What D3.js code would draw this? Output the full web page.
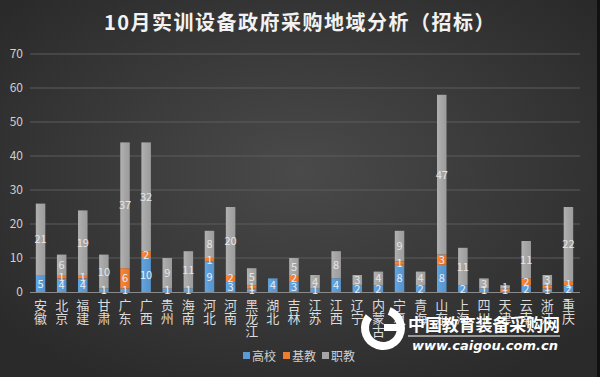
<!DOCTYPE html>
<html><head><meta charset="utf-8">
<script src="https://cdn.jsdelivr.net/npm/d3@7/dist/d3.min.js"></script>
<style>
html,body{margin:0;padding:0;background:#333;}
svg{display:block;font-family:"Noto Sans CJK SC","Noto Sans",sans-serif;}
</style></head>
<body>
<svg id="chart" width="600" height="377"></svg>
<script>
const categories = ["安徽","北京","福建","甘肃","广东","广西","贵州","海南","河北","河南","黑龙江","湖北","吉林","江苏","江西","辽宁","内蒙古","宁夏","青海","山东","上海","四川","天津","云南","浙江","重庆"];
const gaoxiao = [5,4,4,1,1,10,1,1,9,3,1,4,3,1,4,2,2,8,2,8,2,1,0,2,1,2];
const jijiao  = [0,1,1,0,6,2,0,0,1,2,1,0,2,0,0,0,0,1,0,3,0,0,1,2,1,1];
const zhijiao = [21,6,19,10,37,32,9,11,8,20,5,0,5,4,8,3,4,9,4,47,11,3,1,11,3,22];
const seriesNames = ["高校","基教","职教"];
const yTicks = [0,10,20,30,40,50,60,70];
const title = "10月实训设备政府采购地域分析（招标）";

const colors = ["#5b9bd5","#ed7d31","#a5a5a5"];
const svg = d3.select("#chart");

// background
const defs = svg.append("defs");
const rg = defs.append("radialGradient").attr("id","bg").attr("cx","50%").attr("cy","45%").attr("r","65%");
rg.append("stop").attr("offset","0%").attr("stop-color","#4a4a4a");
rg.append("stop").attr("offset","100%").attr("stop-color","#2a2a2a");
svg.append("rect").attr("width",600).attr("height",377).attr("fill","url(#bg)");
svg.append("rect").attr("x",597).attr("width",3).attr("height",377).attr("fill","#111");

colors.forEach((c,i)=>{
  const lg = defs.append("linearGradient").attr("id","g"+i).attr("x1","0").attr("x2","1");
  lg.append("stop").attr("offset","0%").attr("stop-color",d3.color(c).brighter(0.2));
  lg.append("stop").attr("offset","50%").attr("stop-color",c);
  lg.append("stop").attr("offset","100%").attr("stop-color",d3.color(c).darker(0.15));
});

const x = d3.scaleBand().domain(categories).range([30,579]).paddingInner(0.55).paddingOuter(0.275);
const y = d3.scaleLinear().domain([0,70]).range([292,54]);

// gridlines
svg.append("g").selectAll("line").data(yTicks.filter(t=>t>0)).join("line")
  .attr("x1",30).attr("x2",580).attr("y1",d=>y(d)).attr("y2",d=>y(d))
  .attr("stroke","#5c5c5c").attr("stroke-width",1);

// y axis labels
const yAxis = d3.axisLeft(y).tickValues(yTicks).tickSize(0).tickPadding(0);
const ya = svg.append("g").attr("transform","translate(23,0)").call(yAxis);
ya.select(".domain").remove();
ya.selectAll("text").attr("fill","#cfcfcf").attr("font-size",12).attr("font-family","'Noto Sans CJK SC',sans-serif");

// stack
const rows = categories.map((c,i)=>({cat:c, "高校":gaoxiao[i], "基教":jijiao[i], "职教":zhijiao[i]}));
const stack = d3.stack().keys(seriesNames)(rows);

const layers = svg.append("g").selectAll("g").data(stack).join("g")
  .attr("fill",(d,i)=>`url(#g${i})`);
layers.selectAll("rect").data(d=>d).join("rect")
  .attr("x",d=>x(d.data.cat)).attr("width",x.bandwidth())
  .attr("y",d=>y(d[1])).attr("height",d=>y(d[0])-y(d[1]));

// baseline
svg.append("line").attr("x1",30).attr("x2",580).attr("y1",y(0)+0.5).attr("y2",y(0)+0.5)
  .attr("stroke","#8a8a8a").attr("stroke-width",1.2);

// data labels
const lab = svg.append("g").attr("font-size",11).attr("text-anchor","middle");
stack.forEach((layer,si)=>{
  lab.selectAll(null).data(layer.filter(d=>d.data[seriesNames[si]]>0)).join("text")
    .attr("x",d=>x(d.data.cat)+x.bandwidth()/2)
    .attr("y",d=>(y(d[0])+y(d[1]))/2+4)
    .attr("fill", si===2 ? "#e6e6e6" : "#e8eef6")
    .text(d=>d.data[seriesNames[si]]);
});

// category labels (vertical)
const cl = svg.append("g").attr("font-size",13).attr("fill","#dcdcdc").attr("text-anchor","middle");
categories.forEach(c=>{
  const t = cl.append("text").attr("x",x(c)+x.bandwidth()/2).attr("y",310);
  Array.from(c).forEach((ch,k)=>{
    t.append("tspan").attr("x",x(c)+x.bandwidth()/2).attr("dy",k===0?0:13).text(ch);
  });
});

// title
svg.append("text").attr("x",300).attr("y",30).attr("text-anchor","middle")
  .attr("font-size",20).attr("font-weight","bold").attr("fill","#f2f2f2")
  .attr("letter-spacing",1.5).text(title);

// legend
const lgd = svg.append("g").attr("font-size",12).attr("fill","#cfcfcf");
const lx = [243,283,322];
seriesNames.forEach((s,i)=>{
  lgd.append("rect").attr("x",lx[i]).attr("y",352).attr("width",7).attr("height",7).attr("fill",colors[i]);
  lgd.append("text").attr("x",lx[i]+9).attr("y",360.5).text(s);
});

// watermark
const wm = svg.append("g");
wm.append("path")
  .attr("d", d3.arc()({innerRadius:14,outerRadius:22,startAngle:0.35,endAngle:2*Math.PI-0.9}))
  .attr("transform","translate(383,328)").attr("fill","#ffffff");
wm.append("rect").attr("x",384).attr("y",324).attr("width",20).attr("height",7).attr("fill","#fff");
wm.append("text").attr("x",408).attr("y",331).attr("font-size",17).attr("font-weight","bold")
  .attr("fill","#ffffff").attr("textLength",152).text("中国教育装备采购网");
wm.append("line").attr("x1",408).attr("x2",560).attr("y1",336).attr("y2",336).attr("stroke","#fff").attr("stroke-width",1);
wm.append("text").attr("x",412).attr("y",350).attr("font-size",13).attr("font-style","italic").attr("font-weight","bold")
  .attr("fill","#ffffff").attr("textLength",146).attr("font-family","'DejaVu Sans',sans-serif").text("www.caigou.com.cn");
</script>
</body></html>
